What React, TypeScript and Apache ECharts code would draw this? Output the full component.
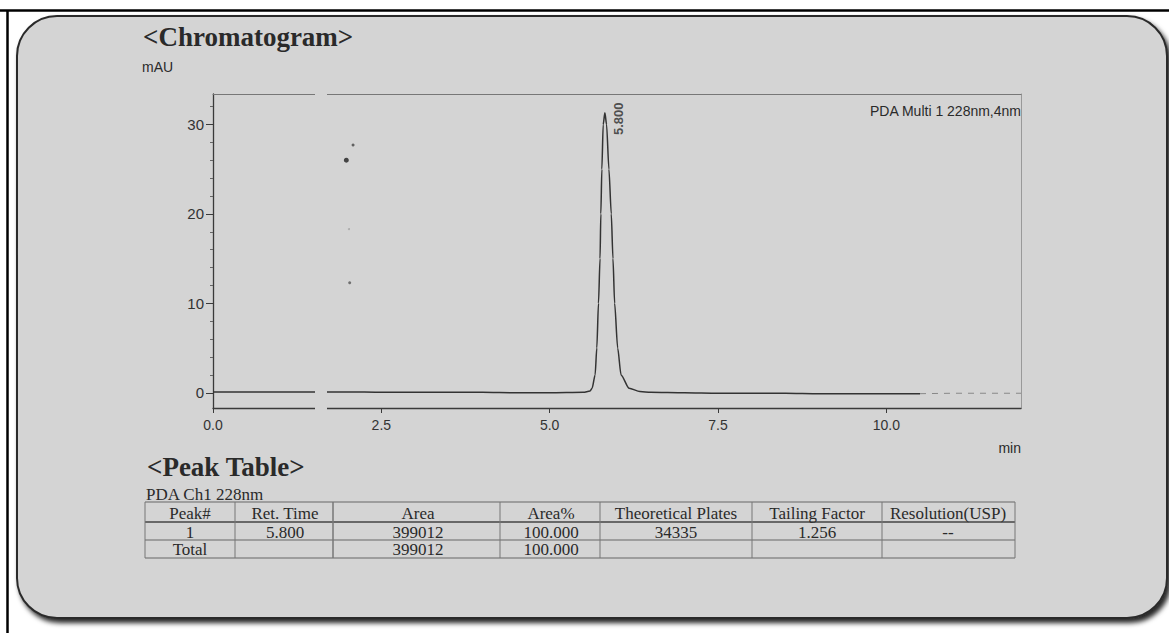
import React, { useEffect, useRef } from "react";
import * as echarts from "echarts";

// ---- Chromatogram data ----
const timeMin = [0, 0.5, 1.0, 1.5, 2.0, 2.5, 3.0, 3.5, 4.0, 4.5, 5.0, 5.5, 5.6, 5.63, 5.675, 5.7, 5.725, 5.748, 5.76, 5.775, 5.795, 5.82, 5.845, 5.88, 5.915, 5.94, 5.965, 6.01, 6.06, 6.18, 6.34, 6.5, 7.0, 7.5, 8.0, 8.5, 9.0, 9.5, 10.0, 10.5];
const signalMAU = [0.1, 0.1, 0.1, 0.1, 0.1, 0.05, 0.05, 0.05, 0.05, 0.0, 0.0, 0.05, 0.2, 0.5, 2, 5, 10, 15, 20, 25, 30, 31.3, 30, 25, 20, 15, 10, 5, 2, 0.5, 0.15, 0.05, 0.0, -0.05, -0.05, -0.05, -0.1, -0.1, -0.1, -0.1];
const tailTime = [10.5, 11.0, 11.5, 12.0];
const tailSignal = [-0.1, -0.05, -0.05, -0.05];
const solventTime = [1.98, 2.08, 2.03, 2.02];
const solventSignal = [26.0, 27.7, 12.3, 18.3];
const peakRetention = [5.8];
const peakApex = [31.3];
const yMajorTicks = [0, 10, 20, 30];
const yMinorTicks = [2, 4, 6, 8, 12, 14, 16, 18, 22, 24, 26, 28, 32];

// ---- Peak table ----
const tableHeaders = ["Peak#", "Ret. Time", "Area", "Area%", "Theoretical Plates", "Tailing Factor", "Resolution(USP)"];
const tableRow1 = ["1", "5.800", "399012", "100.000", "34335", "1.256", "--"];
const tableRow2 = ["Total", "", "399012", "100.000", "", "", ""];

// layout constants
const colCenters = [190, 285, 418, 551, 676, 817, 948];
const colLines = [145, 235, 333, 500, 600, 752, 882, 1015];
const rowLines = [502, 522, 540, 558];
const rowCenters = [513, 532, 549];

const BG = "#d4d4d4";
const INK = "#2a2a2a";
const SERIF = '"Liberation Serif", "Times New Roman", serif';
const SANS = '"Liberation Sans", Arial, sans-serif';

function txt(text: string, x: number, y: number, font: string, align = "left", z = 10) {
  return {
    type: "text",
    z,
    style: { text, x, y, font, fill: INK, align, textAlign: align, verticalAlign: "middle", textVerticalAlign: "middle" },
    silent: true,
  };
}

function ln(x1: number, y1: number, x2: number, y2: number, stroke = "#555", lineWidth = 1.2, z = 10) {
  return { type: "line", z, silent: true, shape: { x1, y1, x2, y2 }, style: { stroke, lineWidth } };
}

export default function App() {
  const ref = useRef<HTMLDivElement>(null);

  useEffect(() => {
    if (!ref.current) return;
    const chart = echarts.init(ref.current, null, { renderer: "svg" });

    const mainData = timeMin.map((t, i) => [t, signalMAU[i]]);
    const tailData = tailTime.map((t, i) => [t, tailSignal[i]]);
    const solventSizes = [5, 3, 3, 2];
    const solventOpacity = [1, 0.8, 0.7, 0.3];
    const solventData = solventTime.map((t, i) => ({
      value: [t, solventSignal[i]],
      itemStyle: { opacity: solventOpacity[i] },
    }));
    const peakData = peakRetention.map((t, i) => [t, peakApex[i]]);

    const graphics: any[] = [];
    // outer frame
    graphics.push(ln(0, 10.5, 1169, 10.5, "#000", 2.5, -20));
    graphics.push(ln(7.5, 10, 7.5, 633, "#000", 2.5, -20));
    // rounded panel
    graphics.push({
      type: "rect",
      z: -10,
      silent: true,
      shape: { x: 17, y: 16, width: 1150, height: 602, r: 40 },
      style: {
        fill: BG,
        stroke: "#2b2b2b",
        lineWidth: 2,
        shadowBlur: 5,
        shadowOffsetX: 3,
        shadowOffsetY: 4,
        shadowColor: "rgba(0,0,0,0.85)",
      },
    });
    // scan gap artifact
    graphics.push({
      type: "rect",
      z: 100,
      silent: true,
      shape: { x: 315, y: 88, width: 12, height: 330 },
      style: { fill: BG },
    });
    // titles and labels
    graphics.push(txt("<Chromatogram>", 143, 37, `bold 27px ${SERIF}`));
    graphics.push(txt("mAU", 142, 67, `14px ${SANS}`));
    graphics.push(txt("PDA Multi 1 228nm,4nm", 1021, 111, `14px ${SANS}`, "right"));
    graphics.push(txt("min", 1021, 448, `14px ${SANS}`, "right"));
    graphics.push(txt("<Peak Table>", 147, 467, `bold 27px ${SERIF}`));
    graphics.push(txt("PDA Ch1 228nm", 146, 494, `17px ${SERIF}`));
    // table lines
    rowLines.forEach((y, i) => {
      graphics.push(ln(colLines[0], y, colLines[colLines.length - 1], y, i === 1 ? "#444" : "#666", i === 1 ? 1.6 : 1.1));
    });
    colLines.forEach((x, i) => {
      graphics.push(ln(x, rowLines[0], x, rowLines[rowLines.length - 1], "#777", i === 2 ? 1.5 : 1));
    });
    // table text
    [tableHeaders, tableRow1, tableRow2].forEach((row, r) => {
      row.forEach((cell, c) => {
        if (cell) graphics.push(txt(cell, colCenters[c], rowCenters[r], `17px ${SERIF}`, "center"));
      });
    });

    const axisLineStyle = { color: "#3a3a3a", width: 1.3 };

    chart.setOption({
      animation: false,
      backgroundColor: "#ffffff",
      grid: { left: 213, right: 148, top: 94, bottom: 225 },
      xAxis: [
        {
          type: "value",
          min: 0,
          max: 12,
          interval: 2.5,
          position: "bottom",
          axisLine: { show: true, onZero: false, lineStyle: axisLineStyle },
          axisTick: { show: true, length: 5, lineStyle: { color: "#3a3a3a" } },
          axisLabel: {
            formatter: (v: number) => v.toFixed(1),
            showMaxLabel: false,
            fontSize: 14,
            fontFamily: SANS,
            color: "#333",
            margin: 10,
          },
          splitLine: { show: false },
        },
        {
          type: "value",
          min: 0,
          max: 12,
          position: "top",
          axisLine: { show: true, onZero: false, lineStyle: { color: "#777", width: 1 } },
          axisTick: { show: false },
          axisLabel: { show: false },
          splitLine: { show: false },
        },
      ],
      yAxis: [
        {
          type: "value",
          min: -1.7,
          max: 33.4,
          position: "left",
          axisLine: { show: true, onZero: false, lineStyle: axisLineStyle },
          axisTick: { show: true, length: 7, customValues: yMajorTicks, lineStyle: { color: "#3a3a3a" } },
          axisLabel: { customValues: yMajorTicks, fontSize: 15, fontFamily: SANS, color: "#333", margin: 9 },
          splitLine: { show: false },
        },
        {
          type: "value",
          min: -1.7,
          max: 33.4,
          position: "left",
          axisLine: { show: false, onZero: false },
          axisTick: { show: true, length: 3, customValues: yMinorTicks, lineStyle: { color: "#666" } },
          axisLabel: { show: false },
          splitLine: { show: false },
        },
        {
          type: "value",
          min: -1.7,
          max: 33.4,
          position: "right",
          axisLine: { show: true, onZero: false, lineStyle: { color: "#999", width: 1 } },
          axisTick: { show: false },
          axisLabel: { show: false },
          splitLine: { show: false },
        },
      ],
      series: [
        {
          type: "line",
          name: "PDA Multi 1",
          data: mainData,
          showSymbol: false,
          smooth: 0.25,
          smoothMonotone: "x",
          lineStyle: { color: "#333", width: 1.5 },
          silent: true,
          z: 3,
        },
        {
          type: "line",
          name: "tail",
          data: tailData,
          showSymbol: false,
          lineStyle: { color: "#888", width: 1, type: [6, 6] },
          silent: true,
        },
        {
          type: "scatter",
          name: "solvent",
          data: solventData,
          symbolSize: (_v: any, p: any) => solventSizes[p.dataIndex],
          itemStyle: { color: "#444" },
          silent: true,
        },
        {
          type: "scatter",
          name: "peak",
          data: peakData,
          symbolSize: 0,
          silent: true,
          label: {
            show: true,
            formatter: (p: any) => p.value[0].toFixed(3),
            position: [15, 6],
            rotate: 90,
            align: "center",
            verticalAlign: "middle",
            fontSize: 13,
            fontWeight: "bold",
            fontFamily: SANS,
            color: INK,
          },
        },
      ],
      graphic: graphics,
    });

    return () => chart.dispose();
  }, []);

  return <div ref={ref} style={{ position: "absolute", left: 0, top: 0, width: 1169, height: 633 }} />;
}
